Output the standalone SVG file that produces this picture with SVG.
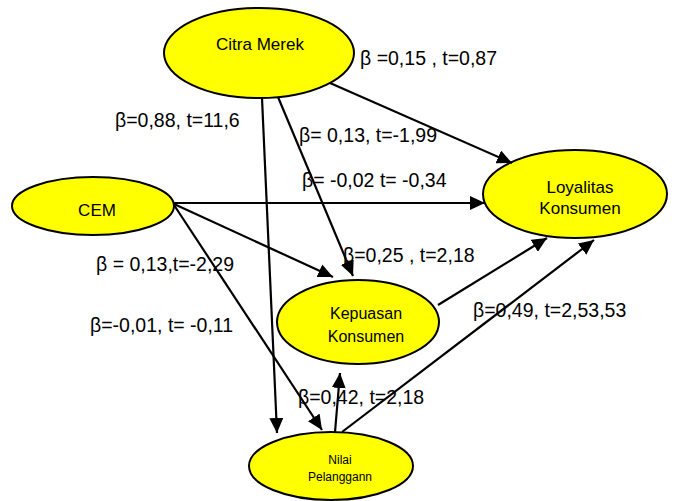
<svg xmlns="http://www.w3.org/2000/svg" width="676" height="501" viewBox="0 0 676 501">
<style>
.node{fill:#ffff00;stroke:#000;stroke-width:2}
.nt{font-family:"Liberation Sans",Arial,sans-serif;font-size:17px;fill:#000;text-anchor:middle}
.lbl{font-family:"Liberation Sans",Arial,sans-serif;font-size:19.5px;fill:#000}
.edge{stroke:#000;stroke-width:2.2;fill:none;marker-end:url(#ah)}
</style>
<defs>
<marker id="ah" markerUnits="userSpaceOnUse" markerWidth="16" markerHeight="14" refX="15" refY="7" orient="auto">
<path d="M0,0 L15,7 L0,14 z" fill="#000"/>
</marker>
</defs>
<rect width="676" height="501" fill="#fff"/>
<g id="citra-merek"><ellipse class="node" cx="259" cy="53" rx="95" ry="45"/><text class="nt" x="260" y="50">Citra Merek</text></g>
<g id="cem"><ellipse class="node" cx="93" cy="206" rx="81" ry="29"/><text class="nt" x="97" y="216">CEM</text></g>
<g id="loyalitas"><ellipse class="node" cx="575" cy="194" rx="92" ry="44"/><text class="nt" x="580" y="193">Loyalitas</text><text class="nt" x="580" y="214">Konsumen</text></g>
<g id="kepuasan"><ellipse class="node" cx="358" cy="322" rx="81" ry="42"/><text class="nt" x="366" y="319" style="font-size:16px">Kepuasan</text><text class="nt" x="366" y="342" style="font-size:16px">Konsumen</text></g>
<g id="nilai"><ellipse class="node" cx="331" cy="466" rx="82" ry="34"/><text class="nt" x="340" y="464" style="font-size:12px">Nilai</text><text class="nt" x="340" y="481" style="font-size:12px">Pelanggann</text></g>
<g id="connectors">
<line class="edge" x1="330" y1="83" x2="512" y2="163"/>
<line class="edge" x1="174" y1="203" x2="485" y2="203"/>
<line class="edge" x1="278" y1="97" x2="353" y2="276"/>
<line class="edge" x1="262" y1="98" x2="277" y2="433"/>
<line class="edge" x1="174" y1="204" x2="333" y2="277"/>
<line class="edge" x1="174" y1="205" x2="322" y2="430"/>
<line class="edge" x1="335" y1="432" x2="340" y2="373"/>
<line class="edge" x1="438" y1="305" x2="547" y2="238"/>
<line class="edge" x1="342" y1="432" x2="594" y2="240"/>
</g>
<g id="labels">
<text class="lbl" x="360" y="65">β =0,15 , t=0,87</text>
<text class="lbl" x="115" y="127">β=0,88, t=11,6</text>
<text class="lbl" x="299" y="142">β= 0,13, t=-1,99</text>
<text class="lbl" x="302" y="187">β= -0,02 t= -0,34</text>
<text class="lbl" x="343" y="262">β=0,25 , t=2,18</text>
<text class="lbl" x="96" y="271">β = 0,13,t=-2,29</text>
<text class="lbl" x="90" y="332">β=-0,01, t= -0,11</text>
<text class="lbl" x="473" y="317">β=0,49, t=2,53,53</text>
<text class="lbl" x="298" y="404">β=0,42, t=2,18</text>
</g>
</svg>
